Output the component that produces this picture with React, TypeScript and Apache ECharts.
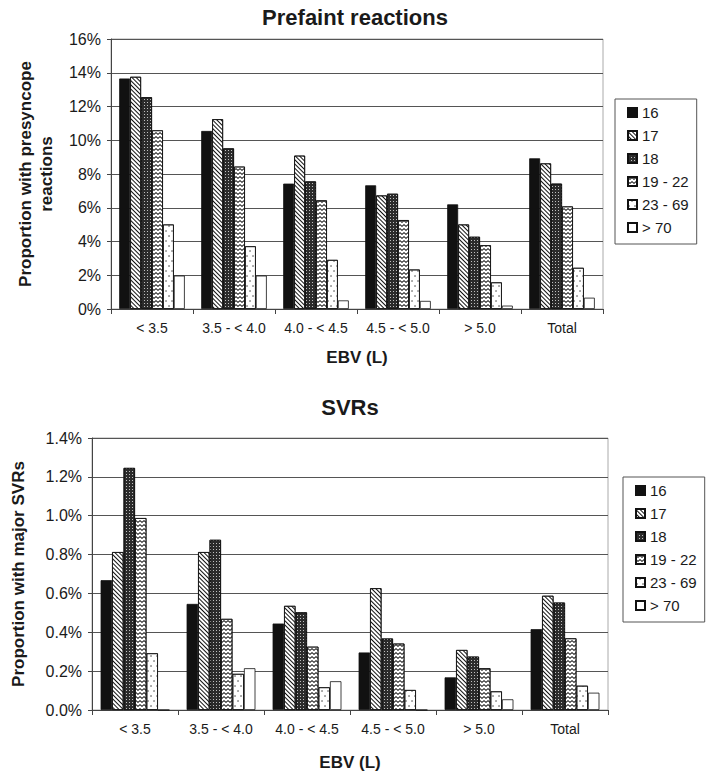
import React, { useEffect, useRef } from 'react';
import * as echarts from 'echarts';

const categories = ['< 3.5', '3.5 - < 4.0', '4.0 - < 4.5', '4.5 - < 5.0', '> 5.0', 'Total'];
const ageGroups = ['16', '17', '18', '19 - 22', '23 - 69', '> 70'];

// Prefaint (presyncope) reactions, percent
const prefaint16 = [13.66, 10.55, 7.43, 7.33, 6.2, 8.93];
const prefaint17 = [13.76, 11.25, 9.09, 6.73, 5.01, 8.63];
const prefaint18 = [12.55, 9.52, 7.56, 6.83, 4.28, 7.43];
const prefaint19to22 = [10.59, 8.44, 6.44, 5.27, 3.78, 6.08];
const prefaint23to69 = [5.01, 3.72, 2.91, 2.34, 1.58, 2.44];
const prefaintOver70 = [1.98, 1.98, 0.51, 0.48, 0.2, 0.67];

// Major SVRs, percent
const svr16 = [0.668, 0.546, 0.445, 0.296, 0.168, 0.416];
const svr17 = [0.813, 0.813, 0.536, 0.627, 0.309, 0.588];
const svr18 = [1.246, 0.876, 0.503, 0.368, 0.275, 0.553];
const svr19to22 = [0.988, 0.469, 0.326, 0.342, 0.215, 0.369];
const svr23to69 = [0.292, 0.186, 0.117, 0.103, 0.096, 0.125];
const svrOver70 = [0, 0.215, 0.148, 0, 0.055, 0.089];

const prefaintAxis = { max: 16, interval: 2, decimals: 0 };
const svrAxis = { max: 1.4, interval: 0.2, decimals: 1 };

const FONT = '"Liberation Sans", Arial, sans-serif';
const INK = '#1a1a1a';

const seriesStyles: any[] = [
  { color: '#111111' },
  {
    color: '#ffffff',
    decal: { symbol: 'rect', dashArrayX: [1, 0], dashArrayY: [1, 2], rotation: Math.PI / 4, color: '#111111' },
  },
  {
    color: '#2b2b2b',
    decal: { symbol: 'rect', dashArrayX: [1, 2], dashArrayY: [1, 2], color: 'rgba(255,255,255,0.7)' },
  },
  {
    color: '#ffffff',
    decal: {
      symbol: 'path://M0,0L2,2L4,0L4,1.3L2,3.3L0,1.3Z',
      symbolKeepAspect: false,
      dashArrayX: [4, 0],
      dashArrayY: [3, 1],
      color: '#111111',
    },
  },
  {
    color: '#ffffff',
    decal: { symbol: 'circle', symbolSize: 0.7, dashArrayX: [[2, 4], [0, 3, 2, 1]], dashArrayY: [2, 3], color: '#333333' },
  },
  { color: '#ffffff' },
];

function makeSeries(values: number[][], axisIndex: number) {
  return values.map((v, i) => {
    const st = seriesStyles[i];
    const itemStyle: any = { color: st.color, borderColor: '#111', borderWidth: 0.8 };
    if (st.decal) itemStyle.decal = st.decal;
    return {
      type: 'bar',
      name: ageGroups[i],
      data: v,
      xAxisIndex: axisIndex,
      yAxisIndex: axisIndex,
      barGap: '0%',
      barCategoryGap: '20%',
      itemStyle,
      emphasis: { disabled: true },
    };
  });
}

function xAxisFor(gridIndex: number, nameGap: number) {
  return {
    type: 'category',
    gridIndex,
    data: categories,
    axisLine: { lineStyle: { color: '#444', width: 1 } },
    axisTick: { show: true, length: 5, lineStyle: { color: '#444' } },
    axisLabel: { fontSize: 14, fontFamily: FONT, color: INK, margin: 12, interval: 0 },
    name: 'EBV (L)',
    nameLocation: 'middle',
    nameGap,
    nameTextStyle: { fontSize: 17, fontWeight: 'bold', fontFamily: FONT, color: INK },
  };
}

function yAxisFor(gridIndex: number, cfg: any, name: string, nameGap: number) {
  return {
    type: 'value',
    gridIndex,
    min: 0,
    max: cfg.max,
    interval: cfg.interval,
    axisLine: { show: true, lineStyle: { color: '#444', width: 1 } },
    axisTick: { show: true, length: 4, lineStyle: { color: '#444' } },
    axisLabel: {
      fontSize: 16,
      fontFamily: FONT,
      color: INK,
      margin: 10,
      formatter: (v: number) => v.toFixed(cfg.decimals) + '%',
    },
    splitLine: { show: true, lineStyle: { color: '#555', width: 1 } },
    name,
    nameLocation: 'middle',
    nameRotate: 90,
    nameGap,
    nameTextStyle: { fontSize: 17, fontWeight: 'bold', fontFamily: FONT, color: INK, lineHeight: 21, align: 'center' },
  };
}

function legendFor(left: number, top: number) {
  return {
    orient: 'vertical',
    left,
    top,
    data: ageGroups,
    icon: 'rect',
    itemWidth: 9,
    itemHeight: 9,
    itemGap: 8,
    padding: [6, 8, 9, 12],
    borderColor: '#555',
    borderWidth: 1,
    selectedMode: false,
    textStyle: { fontSize: 15, fontFamily: FONT, color: INK },
  };
}

export default function App() {
  const ref = useRef<HTMLDivElement>(null);
  useEffect(() => {
    if (!ref.current) return;
    const chart = echarts.init(ref.current, null, { renderer: 'svg' });
    chart.setOption({
      animation: false,
      backgroundColor: '#ffffff',
      grid: [
        { left: 111, top: 39, width: 492, height: 270, show: true, borderColor: '#aaa', borderWidth: 1, backgroundColor: 'transparent' },
        { left: 81, top: 438, width: 527, height: 272, show: true, borderColor: '#aaa', borderWidth: 1, backgroundColor: 'transparent' },
      ],
      xAxis: [xAxisFor(0, 40), xAxisFor(1, 44)],
      yAxis: [
        yAxisFor(0, prefaintAxis, 'Proportion with presyncope\nreactions', 54),
        yAxisFor(1, svrAxis, 'Proportion with major SVRs', 63),
      ],
      legend: [legendFor(615, 99), legendFor(623, 477)],
      graphic: [
        {
          type: 'text',
          x: 355,
          y: 17,
          style: {
            text: 'Prefaint reactions',
            font: 'bold 22px ' + FONT,
            fill: INK,
            align: 'center',
            verticalAlign: 'middle',
            textAlign: 'center',
            textVerticalAlign: 'middle',
          },
        },
        {
          type: 'text',
          x: 350,
          y: 407,
          style: {
            text: 'SVRs',
            font: 'bold 22px ' + FONT,
            fill: INK,
            align: 'center',
            verticalAlign: 'middle',
            textAlign: 'center',
            textVerticalAlign: 'middle',
          },
        },
      ],
      series: [
        ...makeSeries([prefaint16, prefaint17, prefaint18, prefaint19to22, prefaint23to69, prefaintOver70], 0),
        ...makeSeries([svr16, svr17, svr18, svr19to22, svr23to69, svrOver70], 1),
      ],
    });
    return () => chart.dispose();
  }, []);
  return (
    <div
      ref={ref}
      style={{ position: 'absolute', left: 0, top: 0, width: 710, height: 777, background: '#fff' }}
    />
  );
}
